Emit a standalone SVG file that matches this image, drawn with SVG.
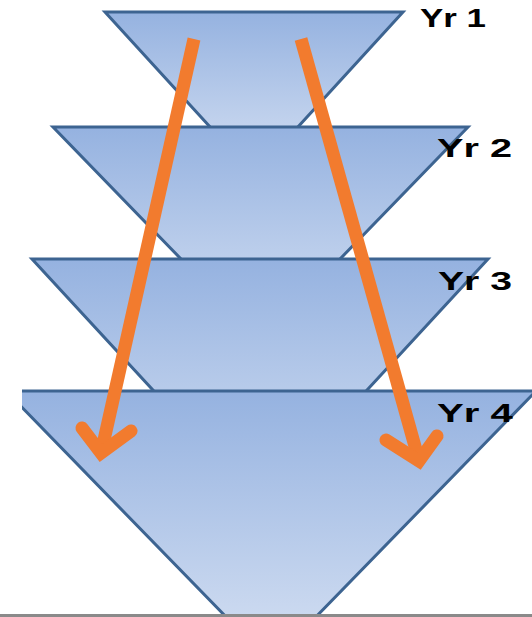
<svg xmlns="http://www.w3.org/2000/svg" width="532" height="617" viewBox="0 0 532 617">
  <defs>
    <linearGradient id="fillGrad" x1="0" y1="0" x2="0" y2="1">
      <stop offset="0" stop-color="#95B2E0"/>
      <stop offset="1" stop-color="#D6E1F3"/>
    </linearGradient>
    <clipPath id="clipLeft">
      <rect x="22" y="0" width="510" height="617"/>
    </clipPath>
  </defs>
  <style>
    .tri { fill: url(#fillGrad); stroke: #3D6491; stroke-width: 3; stroke-linejoin: miter; }
    .lbl { font-family: "Liberation Sans", Arial, sans-serif; font-weight: bold; font-size: 26px; fill: #000; }
    .shaft { fill: none; stroke: #F27B2E; stroke-width: 13; stroke-linecap: butt; }
    .head { fill: none; stroke: #F27B2E; stroke-width: 13; stroke-linecap: round; stroke-linejoin: miter; }
  </style>
  <rect x="0" y="0" width="532" height="617" fill="#FFFFFF"/>
  <g id="yr1">
    <polygon class="tri" points="105,12 403,12 254,175"/>
  </g>
  <g id="yr2">
    <polygon class="tri" points="53,127 468,127 260.5,341"/>
  </g>
  <g id="yr3">
    <polygon class="tri" points="32,259 488,259 260,506"/>
  </g>
  <g id="yr4" clip-path="url(#clipLeft)">
    <polygon class="tri" points="6,391 536,391 271,663"/>
  </g>
  <g id="labels">
    <text class="lbl" x="420" y="27" textLength="66" lengthAdjust="spacingAndGlyphs">Yr 1</text>
    <text class="lbl" x="437" y="157" textLength="75" lengthAdjust="spacingAndGlyphs">Yr 2</text>
    <text class="lbl" x="438" y="290" textLength="74" lengthAdjust="spacingAndGlyphs">Yr 3</text>
    <text class="lbl" x="437" y="422" textLength="76" lengthAdjust="spacingAndGlyphs">Yr 4</text>
  </g>
  <g id="connectors">
    <line class="shaft" x1="194" y1="39" x2="102" y2="449"/>
    <polyline class="head" points="82,428 101,453 131,431"/>
    <line class="shaft" x1="301" y1="39" x2="418" y2="457"/>
    <polyline class="head" points="386,440 419,461 437,436"/>
  </g>
  <rect x="0" y="614" width="532" height="3" fill="#8A8A8A"/>
</svg>
